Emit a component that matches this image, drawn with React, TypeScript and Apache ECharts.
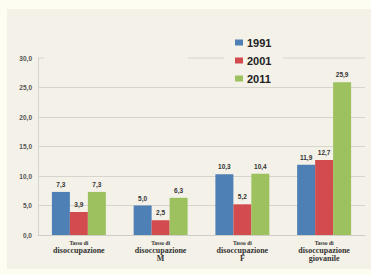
import React, { useEffect, useRef } from "react";
import * as echarts from "echarts";

const categories = ["disoccupazione", "disoccupazione\nM", "disoccupazione\nF", "disoccupazione\ngiovanile"];
const seriesNames = ["1991", "2001", "2011"];
const values1991 = [7.3, 5.0, 10.3, 11.9];
const values2001 = [3.9, 2.5, 5.2, 12.7];
const values2011 = [7.3, 6.3, 10.4, 25.9];
const colors = ["#4e7fb5", "#d24b4e", "#9cc15e"];

const fmt = (v: number) => v.toFixed(1).replace(".", ",");

export default function App() {
  const ref = useRef<HTMLDivElement>(null);
  useEffect(() => {
    document.body.style.margin = "0";
    const chart = echarts.init(ref.current!, null, { renderer: "svg" });
    const data = [values1991, values2001, values2011];
    chart.setOption({
      animation: false,
      backgroundColor: "#fdfdf2",
      graphic: [
        { type: "rect", shape: { x: 7, y: 9, width: 364, height: 260 }, style: { fill: "#f3f1e8" }, z: -10 },
        { type: "line", shape: { x1: 38, y1: 58, x2: 44, y2: 58 }, style: { stroke: "#d6d5cc", lineWidth: 1 } },
        { type: "line", shape: { x1: 188, y1: 58, x2: 224, y2: 58 }, style: { stroke: "#d6d5cc", lineWidth: 1 } },
        { type: "line", shape: { x1: 283, y1: 58, x2: 365, y2: 58 }, style: { stroke: "#d6d5cc", lineWidth: 1 } },
      ],
      legend: {
        orient: "vertical",
        left: 230,
        top: 31,
        itemWidth: 8,
        itemHeight: 6,
        itemGap: 5,
        icon: "rect",
        data: seriesNames,
        textStyle: { fontFamily: "Liberation Sans", fontWeight: "bold", fontSize: 11, color: "#222", lineHeight: 13, padding: [0, 0, 0, -1] },
      },
      grid: { left: 38, right: 6, top: 58, bottom: 40 },
      xAxis: {
        type: "category",
        data: categories,
        axisLine: { lineStyle: { color: "#cfcec6" } },
        axisTick: { length: 3, lineStyle: { color: "#cfcec6" } },
        axisLabel: {
          interval: 0,
          margin: 4,
          formatter: (v: string) => {
            const parts = v.split("\n");
            return ["{s|Tasso di}", ...parts.map((p) => "{b|" + p + "}")].join("\n");
          },
          rich: {
            s: { fontFamily: "Liberation Serif", fontWeight: "bold", fontSize: 5.5, color: "#333", lineHeight: 7 },
            b: { fontFamily: "Liberation Serif", fontWeight: "bold", fontSize: 8, color: "#333", lineHeight: 8.5 },
          },
        },
      },
      yAxis: {
        type: "value",
        min: 0,
        max: 30,
        interval: 5,
        axisLine: { show: true, lineStyle: { color: "#d6d5cc" } },
        axisTick: { show: false },
        splitLine: {
          lineStyle: {
            color: ["#d6d5cc", "#d6d5cc", "#d6d5cc", "#d6d5cc", "#d6d5cc", "#d6d5cc", "rgba(0,0,0,0)"],
          },
        },
        axisLabel: {
          margin: 6,
          formatter: (v: number) => fmt(v),
          fontFamily: "Liberation Sans",
          fontWeight: "bold",
          fontSize: 6.5,
          color: "#555",
        },
      },
      series: seriesNames.map((name, i) => ({
        name,
        type: "bar",
        data: data[i],
        barGap: "0%",
        barCategoryGap: "34%",
        itemStyle: { color: colors[i] },
        label: {
          show: true,
          position: "top",
          distance: 4,
          formatter: (p: any) => fmt(p.value),
          fontFamily: "Liberation Sans",
          fontWeight: "bold",
          fontSize: 6.5,
          color: "#333",
        },
      })),
    });
    return () => chart.dispose();
  }, []);
  return <div ref={ref} style={{ width: 371, height: 275 }} />;
}
